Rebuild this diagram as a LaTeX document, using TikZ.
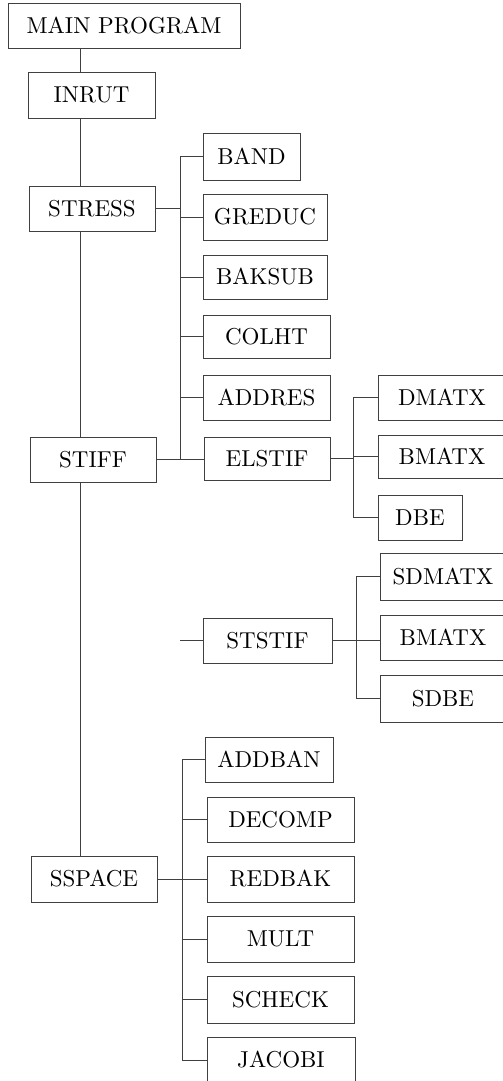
\documentclass[tikz,border=0pt]{standalone}
\font\boxfont="[lmroman10-regular.otf]" at 23pt
\begin{document}
\begin{tikzpicture}[x=1pt,y=-1pt,
  box/.style={draw=black!75, line width=0.55pt, inner sep=0pt, align=center,
    font=\boxfont},
  conn/.style={draw=black!75, line width=0.55pt}]
\useasboundingbox (0,0) rectangle (503,1081);
% trunk and bus coordinates
\coordinate (tr) at (80,0);
\coordinate (b1) at (180,0);
\coordinate (b2) at (353,0);
\coordinate (b3) at (356,0);
\coordinate (b4) at (182,0);
% left column
\node[box, minimum width=232, minimum height=45] (main) at (124,25.5) {MAIN PROGRAM};
\node[box, minimum width=127, minimum height=46] (inrut) at (91.5,95) {INRUT};
\node[box, minimum width=126, minimum height=45] (stress) at (92,208.5) {STRESS};
\node[box, minimum width=126, minimum height=45] (stiff) at (93,459.5) {STIFF};
\node[box, minimum width=126, minimum height=46] (sspace) at (94,879) {SSPACE};
% middle column
\node[box, minimum width=97, minimum height=47] (band) at (251.5,156.5) {BAND};
\node[box, minimum width=124, minimum height=46] (greduc) at (265,217) {GREDUC};
\node[box, minimum width=124, minimum height=44] (baksub) at (265,277) {BAKSUB};
\node[box, minimum width=127, minimum height=43] (colht) at (266.5,336.5) {COLHT};
\node[box, minimum width=127, minimum height=45] (addres) at (266.5,397.5) {ADDRES};
\node[box, minimum width=126, minimum height=43] (elstif) at (267,458.5) {ELSTIF};
\node[box, minimum width=129, minimum height=45] (ststif) at (267.5,640.5) {STSTIF};
\node[box, minimum width=128, minimum height=45] (addban) at (269,759.5) {ADDBAN};
\node[box, minimum width=147, minimum height=45] (decomp) at (280.5,819.5) {DECOMP};
\node[box, minimum width=147, minimum height=46] (redbak) at (280.5,879) {REDBAK};
\node[box, minimum width=147, minimum height=46] (mult) at (280.5,939) {MULT};
\node[box, minimum width=147, minimum height=47] (scheck) at (280.5,999.5) {SCHECK};
\node[box, minimum width=148, minimum height=46] (jacobi) at (281,1060) {JACOBI};
% right column
\node[box, minimum width=128, minimum height=45] (dmatx) at (442,397.5) {DMATX};
\node[box, minimum width=128, minimum height=43] (bmatxa) at (442,456.5) {BMATX};
\node[box, minimum width=84, minimum height=45] (dbe) at (420,517.5) {DBE};
\node[box, minimum width=126, minimum height=47] (sdmatx) at (443,576.5) {SDMATX};
\node[box, minimum width=126, minimum height=45] (bmatxb) at (443,637.5) {BMATX};
\node[box, minimum width=126, minimum height=47] (sdbe) at (443,698.5) {SDBE};
% trunk
\draw[conn] (tr |- main.south) -- (tr |- inrut.north);
\draw[conn] (tr |- inrut.south) -- (tr |- stress.north);
\draw[conn] (tr |- stress.south) -- (tr |- stiff.north);
\draw[conn] (tr |- stiff.south) -- (tr |- sspace.north);
% STRESS / STIFF bus
\draw[conn] (stress.east) -- (b1 |- stress.east);
\draw[conn] (b1 |- band.west) -- (b1 |- stiff.east);
\foreach \n in {band,greduc,baksub,colht,addres,ststif}
  \draw[conn] (b1 |- \n.west) -- (\n.west);
\draw[conn] (stiff.east) -- (stiff.east -| elstif.west);
% ELSTIF bus
\draw[conn] (elstif.east) -- (b2 |- elstif.east);
\draw[conn] (b2 |- dmatx.west) -- (b2 |- dbe.west);
\foreach \n in {dmatx,bmatxa,dbe}
  \draw[conn] (b2 |- \n.west) -- (\n.west);
% STSTIF bus
\draw[conn] (ststif.east) -- (ststif.east -| bmatxb.west);
\draw[conn] (b3 |- sdmatx.west) -- (b3 |- sdbe.west);
\foreach \n in {sdmatx,sdbe}
  \draw[conn] (b3 |- \n.west) -- (\n.west);
% SSPACE bus
\draw[conn] (sspace.east) -- (b4 |- sspace.east);
\draw[conn] (b4 |- addban.west) -- (b4 |- jacobi.west);
\foreach \n in {addban,decomp,redbak,mult,scheck,jacobi}
  \draw[conn] (b4 |- \n.west) -- (\n.west);
\end{tikzpicture}
\end{document}
